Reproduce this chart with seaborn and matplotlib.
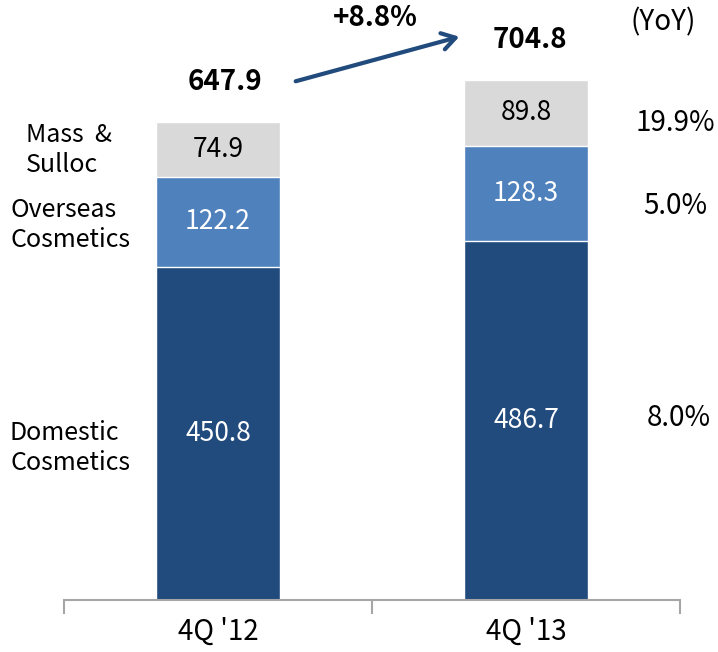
import matplotlib
matplotlib.use("Agg")
import matplotlib.pyplot as plt
import seaborn as sns
import pandas as pd
import numpy as np

# ── DATA ───────────────────────────────────────────────────────
quarters  = ["4Q '12", "4Q '13"]
domestic  = [450.8, 486.7]
overseas  = [122.2, 128.3]
mass      = [74.9, 89.8]
yoy       = ["8.0%", "5.0%", "19.9%"]   # domestic, overseas, mass
growth    = "+8.8%"
seg_names = ["Domestic\nCosmetics", "Overseas\nCosmetics", "Mass  &\nSulloc"]

DARK = "#214A7D"; MID = "#4F81BD"; GRAY = "#D9D9D9"

sns.set_theme(style="white")
plt.rcParams["font.family"] = ["Noto Sans CJK KR", "DejaVu Sans"]
plt.rcParams.update({"text.color": "black", "xtick.color": "black"})

df = pd.DataFrame({"q": quarters, "dom": domestic, "ovs": overseas, "mass": mass})
df["lvl2"] = df["dom"] + df["ovs"]
df["total"] = df["lvl2"] + df["mass"]

W, H = 718, 652
fig = plt.figure(figsize=(W/100, H/100), dpi=100)
ax = fig.add_axes([64/W, (H-600)/H, 616/W, 600/H])

# stacked look: draw cumulative heights from tallest down
for col, c in [("total", GRAY), ("lvl2", MID), ("dom", DARK)]:
    sns.barplot(data=df, x="q", y=col, color=c, width=0.4, ax=ax,
                edgecolor="white", linewidth=1, saturation=1)

ax.set_xlim(-0.5, 1.5)
ax.set_ylim(0, 812.5)
ax.set_xlabel(""); ax.set_ylabel("")
ax.set_yticks([])
for s in ["top", "left", "right"]:
    ax.spines[s].set_visible(False)
ax.spines["bottom"].set_color("#A6A6A6")
ax.spines["bottom"].set_linewidth(1.5)
ax.set_xticks([0, 1])
ax.set_xticklabels(quarters, fontsize=20, color="black")
ax.tick_params(axis="x", which="major", length=0, pad=12, labelcolor="black")
ax.set_xticks([-0.5, 0.5, 1.5], minor=True)
ax.tick_params(axis="x", which="minor", length=10, width=1.5, color="#A6A6A6", bottom=True)

# segment values
for i, r in df.iterrows():
    ax.text(i, r["dom"]/2, f"{r['dom']:.1f}", ha="center", va="center", color="white", fontsize=19)
    ax.text(i, r["dom"] + r["ovs"]/2, f"{r['ovs']:.1f}", ha="center", va="center", color="white", fontsize=19)
    ax.text(i, r["lvl2"] + r["mass"]/2, f"{r['mass']:.1f}", ha="center", va="center", color="black", fontsize=19)

def px(x, y):
    return x/W, 1 - y/H

# totals + growth arrow
fig.text(*px(225, 82), f"{df['total'][0]:.1f}", ha="center", va="center", fontsize=20, fontweight="bold", color="black")
fig.text(*px(530, 40), f"{df['total'][1]:.1f}", ha="center", va="center", fontsize=20, fontweight="bold", color="black")
fig.text(*px(375, 18), growth, ha="center", va="center", fontsize=20, fontweight="bold", color="black")
ax.annotate("", xy=px(462, 36), xytext=px(293, 82), xycoords="figure fraction",
            textcoords="figure fraction",
            arrowprops=dict(arrowstyle="->,head_length=0.8,head_width=0.5", color=DARK, lw=3))

# left segment labels
fig.text(*px(10, 448), seg_names[0], ha="left", va="center", fontsize=18, linespacing=1.2, color="black")
fig.text(*px(10, 225), seg_names[1], ha="left", va="center", fontsize=18, linespacing=1.2, color="black")
fig.text(*px(26, 150), seg_names[2], ha="left", va="center", fontsize=18, linespacing=1.2, color="black")

# YoY column
fig.text(*px(663, 22), "(YoY)", ha="center", va="center", fontsize=20, color="black")
fig.text(*px(679, 418), yoy[0], ha="center", va="center", fontsize=20, color="black")
fig.text(*px(675, 206), yoy[1], ha="center", va="center", fontsize=20, color="black")
fig.text(*px(675, 123), yoy[2], ha="center", va="center", fontsize=20, color="black")

fig.savefig("out.png", dpi=100, facecolor="white")
